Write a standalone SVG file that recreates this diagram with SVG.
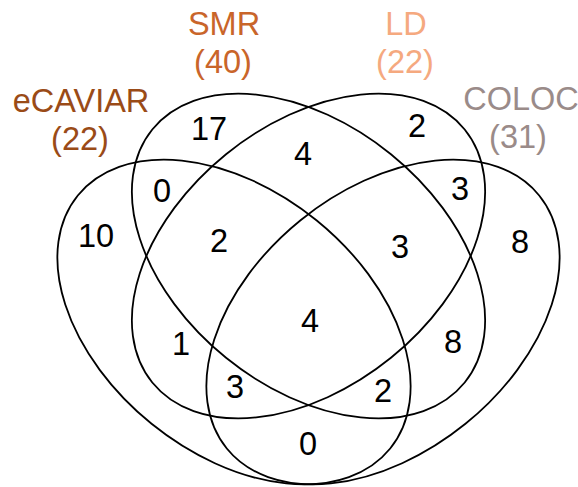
<svg xmlns="http://www.w3.org/2000/svg" width="578" height="487" viewBox="0 0 578 487">
<style>
.set{fill:none;stroke:#000;stroke-width:1.8}
text{font-family:"Liberation Sans",Arial,sans-serif;font-size:32.5px;text-anchor:middle}
.n{fill:#000}
.c1{fill:#9A4B17}
.c2{fill:#C9652A}
.c3{fill:#F5A97F}
.c4{fill:#9A8B89}
</style>
<rect width="578" height="487" fill="#fff"/>
<g id="set-ecaviar">
<ellipse class="set" cx="234" cy="322" rx="201" ry="131" transform="rotate(39 234 322)"/>
<text class="c1" x="81" y="112">eCAVIAR</text>
<text class="c1" x="80" y="150">(22)</text>
</g>
<g id="set-smr">
<ellipse class="set" cx="308.5" cy="256" rx="201" ry="131" transform="rotate(39 308.5 256)"/>
<text class="c2" x="224" y="35">SMR</text>
<text class="c2" x="223" y="73">(40)</text>
</g>
<g id="set-ld">
<ellipse class="set" cx="308.5" cy="256" rx="201" ry="131" transform="rotate(-39 308.5 256)"/>
<text class="c3" x="406" y="35">LD</text>
<text class="c3" x="405" y="73">(22)</text>
</g>
<g id="set-coloc">
<ellipse class="set" cx="383" cy="322" rx="201" ry="131" transform="rotate(-39 383 322)"/>
<text class="c4" x="521" y="110">COLOC</text>
<text class="c4" x="518" y="148">(31)</text>
</g>
<g id="counts" class="n">
<text x="209" y="140">17</text>
<text x="303" y="165">4</text>
<text x="417" y="137">2</text>
<text x="162" y="202">0</text>
<text x="460" y="200">3</text>
<text x="96" y="247">10</text>
<text x="219" y="252">2</text>
<text x="400" y="258">3</text>
<text x="520" y="253">8</text>
<text x="310" y="332">4</text>
<text x="181" y="355">1</text>
<text x="453" y="353">8</text>
<text x="235" y="398">3</text>
<text x="383" y="402">2</text>
<text x="308" y="455">0</text>
</g>
<g id="connectors"></g>
</svg>
